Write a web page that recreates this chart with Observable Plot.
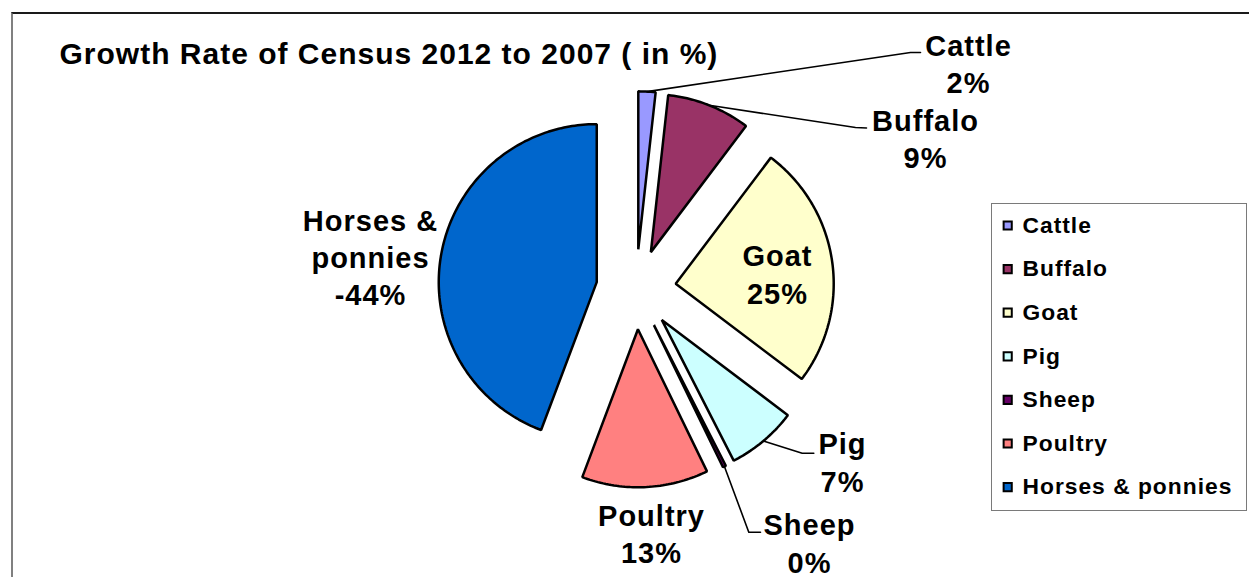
<!DOCTYPE html>
<html><head><meta charset="utf-8">
<script src="https://cdn.jsdelivr.net/npm/d3@7"></script>
<script src="https://cdn.jsdelivr.net/npm/@observablehq/plot@0.6"></script>
<style>
html,body{margin:0;padding:0;background:#fff;overflow:hidden;}
#wrap{position:relative;width:1249px;height:577px;overflow:hidden;}
#border{position:absolute;left:11px;top:12px;width:1400px;height:800px;border-top:2px solid #1a1a1a;border-left:2px solid #808080;}
#legendbox{position:absolute;left:991px;top:203px;width:254px;height:306px;border:1.5px solid #7a7a7a;}
#chart{position:absolute;left:0;top:0;}
</style></head><body>
<div id="wrap"><div id="border"></div><div id="chart"></div><div id="legendbox"></div></div>
<script>
// ---- data ----
const title = "Growth Rate of Census 2012 to 2007 ( in %)";
const categories = ["Cattle", "Buffalo", "Goat", "Pig", "Sheep", "Poultry", "Horses & ponnies"];
const growth = [1.75, 8.53, 25.0, 7.18, 0.32, 12.92, -44.25];
const colors = ["#9999FF", "#993366", "#FFFFCC", "#CCFFFF", "#660066", "#FF8080", "#0066CC"];

// ---- layout (pixels) ----
const W = 1249, H = 577;
const CX = 635.6, CY = 288.8, R = 158, EXPLODE = 40;
const ux = px => (px - CX) / R;
const uy = py => (CY - py) / R;
const labelPos = {
  "Cattle": [968, 62], "Buffalo": [925, 137], "Goat": [777, 272.5], "Pig": [842, 460.5],
  "Sheep": [809, 541.5], "Poultry": [651, 532], "Horses & ponnies": [370, 255.5]
};
const leaderPos = {
  "Cattle": [[910, 52], [920, 52]],
  "Buffalo": [[855, 127], [866, 127.5]],
  "Pig": [[801.7, 452.7], [813.3, 452.7]],
  "Sheep": [[748.3, 531.7], [760, 531.7]]
};
const LEG_SQ_X = 1007.2, LEG_TX = 1022, LEG_Y0 = 225, LEG_DY = 43.6;

// ---- geometry from data ----
const rows = categories.map((c, i) => ({category: c, value: growth[i]}));
const arcs = d3.pie().value(d => Math.abs(d.value)).sort(null)(rows);
const e = EXPLODE / R;
const slicePts = [], leaderPts = [], labelRows = [];
const wrap = s => s.length > 10 ? s.slice(0, s.lastIndexOf(" ")) + "\n" + s.slice(s.lastIndexOf(" ") + 1) : s;
for (const a of arcs) {
  const c = a.data.category;
  const mid = (a.startAngle + a.endAngle) / 2;
  const ox = e * Math.sin(mid), oy = e * Math.cos(mid);
  slicePts.push({category: c, x: ox, y: oy});
  const n = Math.max(2, Math.ceil((a.endAngle - a.startAngle) / (Math.PI / 180)));
  for (let k = 0; k <= n; k++) {
    const t = a.startAngle + (a.endAngle - a.startAngle) * k / n;
    slicePts.push({category: c, x: ox + Math.sin(t), y: oy + Math.cos(t)});
  }
  if (leaderPos[c]) {
    leaderPts.push({category: c, x: ox + Math.sin(mid), y: oy + Math.cos(mid)});
    for (const [px, py] of leaderPos[c]) leaderPts.push({category: c, x: ux(px), y: uy(py)});
  }
  const [lx, ly] = labelPos[c];
  labelRows.push({category: c, x: ux(lx), y: uy(ly), text: wrap(c) + "\n" + Math.round(a.data.value) + "%"});
}
const legendRows = categories.map((c, i) => ({category: c, sx: ux(LEG_SQ_X), tx: ux(LEG_TX), y: uy(LEG_Y0 + i * LEG_DY)}));

const font = "'Liberation Sans', Arial, Helvetica, sans-serif";
const chart = Plot.plot({
  width: W, height: H, margin: 0,
  style: {background: "transparent", fontFamily: font, letterSpacing: "1px"},
  x: {domain: [ux(0), ux(W)], axis: null},
  y: {domain: [uy(H), uy(0)], axis: null},
  color: {domain: categories, range: colors},
  marks: [
    Plot.line(slicePts, {x: "x", y: "y", z: "category", fill: "category", stroke: "black", strokeWidth: 2.5, curve: "linear-closed", strokeLinejoin: "miter"}),
    Plot.line(leaderPts, {x: "x", y: "y", z: "category", stroke: "black", strokeWidth: 1.6, curve: "linear"}),
    Plot.text(labelRows, {x: "x", y: "y", text: "text", fontSize: 29, fontWeight: "bold", lineHeight: 1.29, textAnchor: "middle", fill: "black", fontFamily: font}),
    Plot.text([title], {text: d => d, frameAnchor: "top-left", dx: 59, dy: 42, lineAnchor: "top", textAnchor: "start", fontSize: 30, fontWeight: "bold", fill: "black", fontFamily: font}),
    Plot.dot(legendRows, {x: "sx", y: "y", symbol: "square", r: 4.6, fill: "category", stroke: "black", strokeWidth: 2}),
    Plot.text(legendRows, {x: "tx", y: "y", text: "category", textAnchor: "start", fontSize: 22.8, fontWeight: "bold", fill: "black", fontFamily: font})
  ]
});
document.getElementById("chart").appendChild(chart);
</script>
</body></html>
